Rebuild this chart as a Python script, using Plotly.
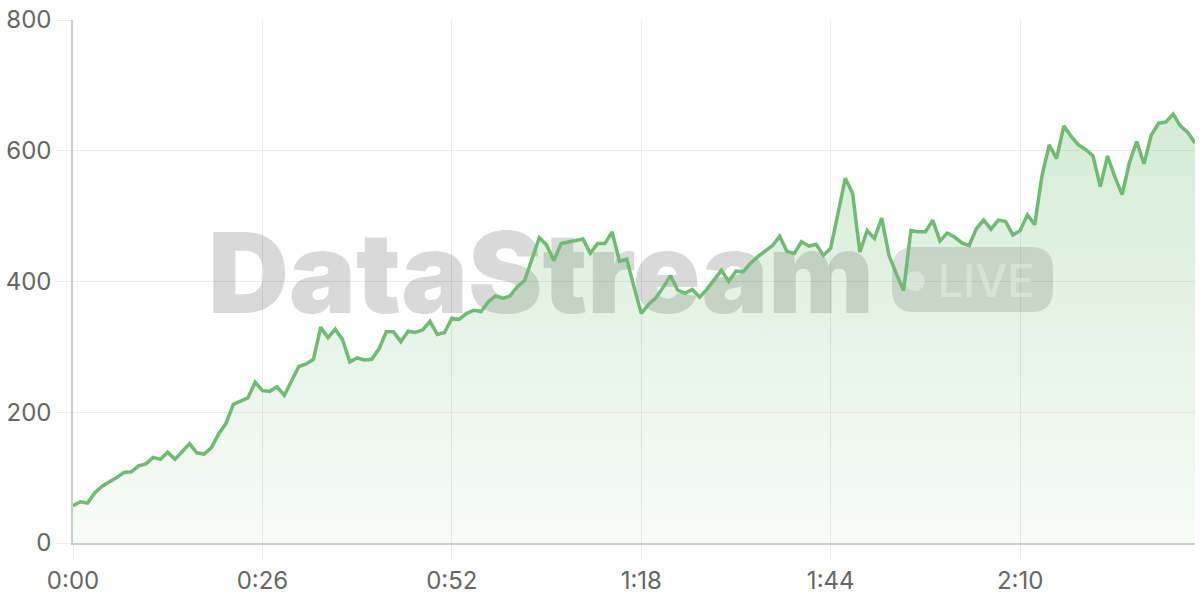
import plotly.graph_objects as go

# ---- data (seconds elapsed, value) ----
seconds = list(range(155))
values = [
    57, 63, 61, 77, 87, 93, 100, 108, 109, 118,
    121, 131, 128, 139, 128, 140, 152, 138, 136, 146,
    167, 183, 212, 217, 222, 246, 233, 232, 239, 226,
    248, 270, 274, 281, 330, 314, 327, 311, 277, 283,
    280, 281, 297, 323, 323, 308, 324, 322, 326, 339,
    319, 322, 344, 342, 351, 356, 354, 369, 378, 374,
    378, 392, 402, 435, 467, 456, 432, 458, 460, 462,
    465, 443, 458, 458, 476, 431, 434, 392, 351, 365,
    375, 391, 409, 387, 382, 388, 376, 388, 402, 417,
    400, 416, 415, 428, 438, 447, 455, 469, 446, 443,
    461, 454, 457, 440, 451, 504, 558, 535, 445, 478,
    466, 497, 440, 412, 386, 478, 476, 476, 494, 462,
    474, 468, 459, 455, 481, 494, 480, 494, 492, 471,
    478, 502, 487, 562, 609, 588, 638, 622, 609, 602,
    592, 545, 592, 560, 533, 582, 614, 580, 624, 642,
    644, 656, 638, 628, 612,
]
x_tickvals = [0, 26, 52, 78, 104, 130]
x_ticktext = ["0:00", "0:26", "0:52", "1:18", "1:44", "2:10"]
y_tickvals = [0, 200, 400, 600, 800]

# ---- layout geometry ----
W, H = 1200, 600
ML, MR, MT, MB = 73, 5, 20, 57
PW, PH = W - ML - MR, H - MT - MB
XMAX, YMAX = 154, 800


def dx(sx):
    return (sx - ML) / PW * XMAX


def dy(sy):
    return (H - MB - sy) / PH * YMAX


fig = go.Figure()
fig.add_trace(go.Scatter(
    x=seconds, y=values, mode="lines",
    line=dict(color="rgb(112,186,116)", width=3.5),
    fill="tozeroy",
    fillgradient=dict(
        type="vertical", start=0, stop=660,
        colorscale=[[0, "rgba(76,175,80,0.04)"], [1, "rgba(76,175,80,0.24)"]],
    ),
    hoverinfo="skip", showlegend=False,
))

# ---- watermark ----
wm_color = "rgba(0,0,0,0.15)"
cx, cy = 541, 269
fig.add_shape(
    type="rect", xref="x", yref="y",
    x0=dx(cx - 390), x1=dx(cx + 390), y0=dy(cy + 62), y1=dy(cy - 62),
    line=dict(width=0), fillcolor="rgba(0,0,0,0)", layer="between",
    label=dict(text="DataStream", textposition="middle center",
               font=dict(family="Inter", size=112, color=wm_color, weight=900)),
)

bx0, bx1, by0, by1, r = dx(892), dx(1053), dy(312), dy(247), 22
rx, ry = r / PW * XMAX, r / PH * YMAX
path = (
    f"M {bx0+rx},{by1} L {bx1-rx},{by1} Q {bx1},{by1} {bx1},{by1-ry} "
    f"L {bx1},{by0+ry} Q {bx1},{by0} {bx1-rx},{by0} "
    f"L {bx0+rx},{by0} Q {bx0},{by0} {bx0},{by0+ry} "
    f"L {bx0},{by1-ry} Q {bx0},{by1} {bx0+rx},{by1} Z"
)
fig.add_shape(type="path", xref="x", yref="y", path=path,
              fillcolor="rgba(0,0,0,0.13)", line=dict(width=0), layer="between")
fig.add_shape(type="circle", xref="x", yref="y",
              x0=dx(905), x1=dx(925), y0=dy(291), y1=dy(271),
              fillcolor="rgba(255,255,255,0.55)", line=dict(width=0), layer="between")
fig.add_shape(
    type="rect", xref="x", yref="y",
    x0=dx(936), x1=dx(1036), y0=dy(312), y1=dy(247),
    line=dict(width=0), fillcolor="rgba(0,0,0,0)", layer="between",
    label=dict(text="LIVE", textposition="middle center",
               font=dict(family="Inter", size=45, color="rgba(255,255,255,0.55)", weight=500)),
)

grid = "#ebebeb"
fig.update_layout(
    width=W, height=H,
    margin=dict(l=ML, r=MR, t=MT, b=MB, autoexpand=False),
    paper_bgcolor="white", plot_bgcolor="white",
    font=dict(family="Inter", size=24, color="#666666"),
    hovermode=False,
    xaxis=dict(
        range=[0, XMAX], tickvals=x_tickvals, ticktext=x_ticktext,
        showgrid=True, gridcolor=grid, gridwidth=1,
        showline=True, linecolor="#cccccc", linewidth=1.5,
        ticks="outside", ticklen=15, tickcolor=grid, zeroline=False,
        ticklabeloverflow="allow", fixedrange=True,
    ),
    yaxis=dict(
        range=[0, YMAX], tickvals=y_tickvals,
        showgrid=True, gridcolor=grid, gridwidth=1,
        showline=True, linecolor="#cccccc", linewidth=1.5,
        ticks="outside", ticklen=15, tickcolor=grid, zeroline=False,
        ticklabeloverflow="allow", fixedrange=True,
    ),
)

fig.write_html("out.html", config={"displayModeBar": False},
               post_script="document.body.style.margin='0';")
